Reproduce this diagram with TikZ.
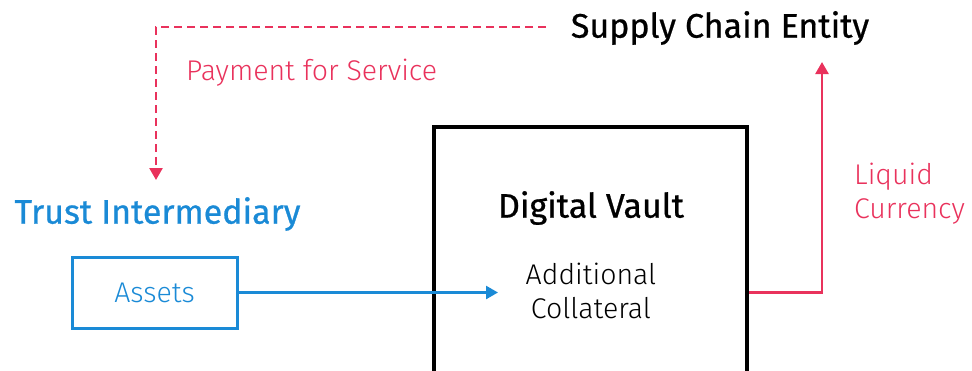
\documentclass[tikz,border=0pt]{standalone}
\usepackage{fontspec}
\setmainfont{Fira Sans}
\newfontfamily\headfont{Fira Sans}[RawFeature={embolden=0.7}]
\newfontfamily\lightfont{Fira Sans Light}
\usetikzlibrary{arrows.meta}
\definecolor{tblue}{RGB}{26,138,214}
\definecolor{tred}{RGB}{233,50,92}
\tikzset{
  heading/.style={font=\headfont\fontsize{34}{40}\selectfont, inner sep=0pt},
  body/.style={font=\lightfont\fontsize{28.5}{34}\selectfont, inner sep=0pt, align=center},
  tip/.style={-{Triangle[length=12pt,width=13pt]}},
  flow/.style={line width=2.5pt, tip},
}
\begin{document}
\begin{tikzpicture}[x=1pt,y=-1pt]
\useasboundingbox (0,0) rectangle (972,370);
% nodes
\node[heading] (sce) at (720,28) {Supply Chain Entity};
\node[heading, text=tblue] (ti) at (157.5,214) {Trust Intermediary};
\node[draw=tblue, line width=3pt, minimum width=165pt, minimum height=71pt, inner sep=0pt] (assets) at (154.5,292.5) {};
\node[body, text=tblue] (assetstxt) at (assets.center) {Assets};
\node[draw, line width=3.5pt, minimum width=313pt, minimum height=280pt, inner sep=0pt] (vault) at (590.5,267) {};
\node[heading] (dv) at (591,208) {Digital Vault};
\node[body] (ac) at (591,291) {Additional\\Collateral};
\node[body, text=tred, align=left, anchor=west] (lc) at (854,194) {Liquid\\Currency};
\node[body, text=tred, anchor=west] (pfs) at (186,73) {Payment for Service};
\coordinate (sceleft) at (546,27);
\coordinate (tiarrow) at (156,180);
\coordinate (acarrow) at (498,292.5);
\coordinate (lctop) at (822,62);
% connectors
\draw[tred, line width=2.5pt, dash pattern=on 8pt off 5pt, tip] (sceleft) -| (tiarrow);
\draw[tblue, flow] (assets.east) -- (acarrow);
\draw[tred, flow] (assets.east -| vault.east) -| (lctop);
\end{tikzpicture}
\end{document}
